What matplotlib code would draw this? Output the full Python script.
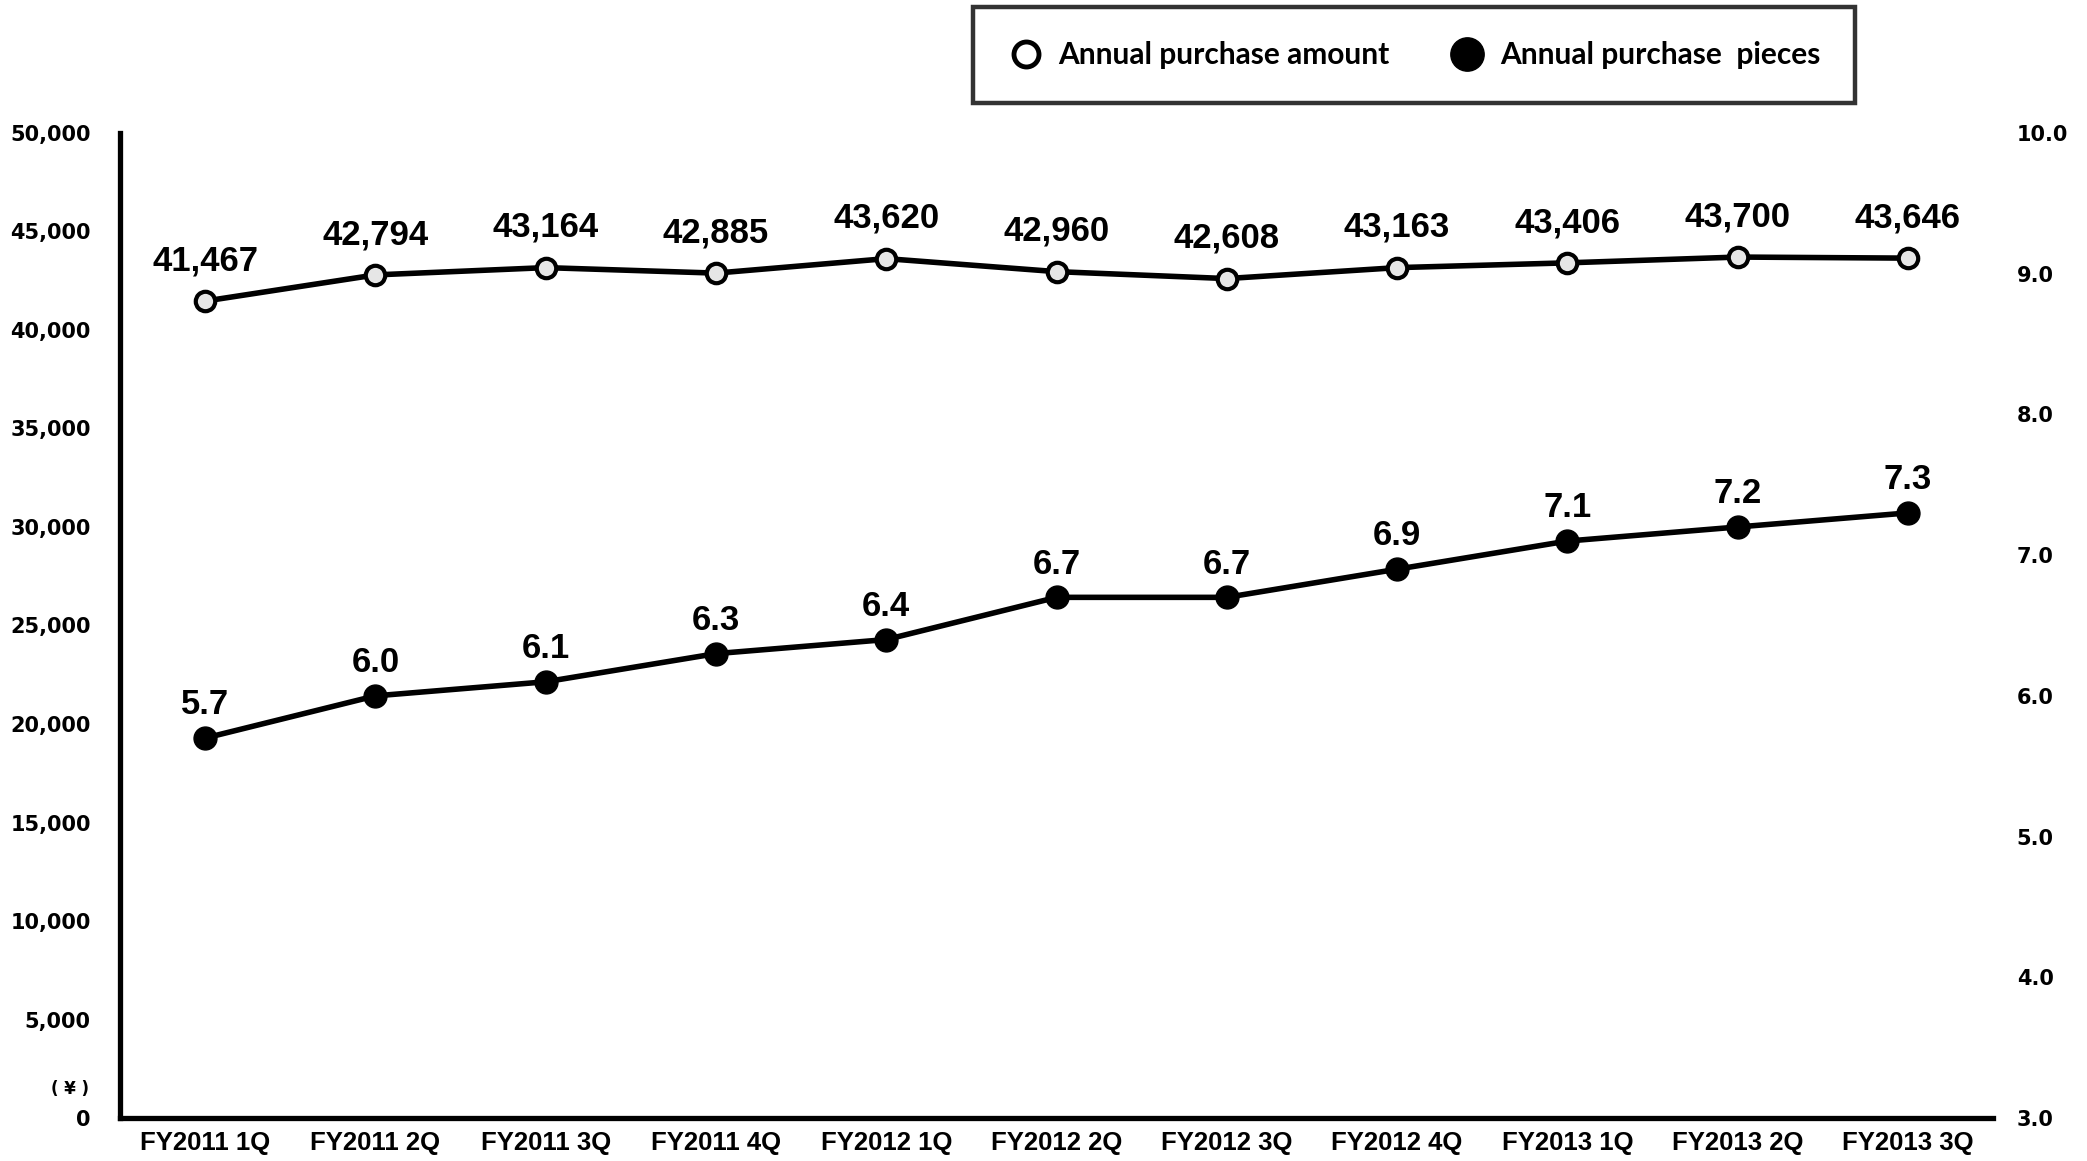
import matplotlib
matplotlib.use("Agg")
import matplotlib.pyplot as plt
from matplotlib.lines import Line2D
from matplotlib.ticker import FuncFormatter

# quarterly purchase figures
quarters = ["FY2011 1Q", "FY2011 2Q", "FY2011 3Q", "FY2011 4Q", "FY2012 1Q", "FY2012 2Q",
            "FY2012 3Q", "FY2012 4Q", "FY2013 1Q", "FY2013 2Q", "FY2013 3Q"]
purchase_amount = [41467, 42794, 43164, 42885, 43620, 42960, 42608, 43163, 43406, 43700, 43646]
purchase_pieces = [5.7, 6.0, 6.1, 6.3, 6.4, 6.7, 6.7, 6.9, 7.1, 7.2, 7.3]

amount_ticks = list(range(0, 50001, 5000))
pieces_ticks = [3.0, 4.0, 5.0, 6.0, 7.0, 8.0, 9.0, 10.0]

tick_font = {'family': ['DejaVu Sans'], 'weight': 'bold', 'size': 15}
xtick_font = {'family': ['Liberation Sans Narrow', 'Liberation Sans'], 'weight': 'bold', 'size': 18.5}
label_font = {'family': ['Liberation Sans'], 'weight': 'bold', 'size': 25}

fig = plt.figure(figsize=(20.87, 11.61), dpi=100)
ax = fig.add_axes([0.0575, 0.037, 0.8975, 0.8485])
ax2 = ax.twinx()

x = list(range(len(quarters)))

# amount (left axis)
ax.plot(x, purchase_amount, color='black', lw=4, marker='o', ms=14,
        mfc='#e6e6e6', mec='black', mew=3, zorder=3)
for xi, v in zip(x, purchase_amount):
    ax.annotate(f"{v:,}", (xi, v), xytext=(0, 29), textcoords='offset points',
                ha='center', va='center', **label_font)

# pieces (right axis)
ax2.plot(x, purchase_pieces, color='black', lw=4, marker='o', ms=16.5,
         mfc='black', mec='black', zorder=3)
for xi, v in zip(x, purchase_pieces):
    ax2.annotate(f"{v:.1f}", (xi, v), xytext=(0, 24), textcoords='offset points',
                 ha='center', va='center', **label_font)

ax.set_xlim(-0.5, len(quarters) - 0.5)
ax.set_ylim(0, 50000)
ax2.set_ylim(3, 10)

ax.set_xticks(x)
ax.set_xticklabels(quarters, **xtick_font)
ax.set_yticks(amount_ticks)
ax.yaxis.set_major_formatter(FuncFormatter(lambda v, p: f"{int(v):,}"))
ax2.set_yticks(pieces_ticks)
ax2.yaxis.set_major_formatter(FuncFormatter(lambda v, p: f"{v:.1f}"))

for lab in ax.get_yticklabels():
    lab.set(**tick_font)
for lab in ax2.get_yticklabels():
    lab.set(**tick_font)

ax.tick_params(axis='y', length=0, pad=21)
ax.tick_params(axis='x', length=0, pad=9)
ax2.tick_params(axis='y', length=0, pad=17)

for a in (ax, ax2):
    for s in ('top', 'right'):
        a.spines[s].set_visible(False)
ax2.spines['left'].set_visible(False)
ax2.spines['bottom'].set_visible(False)
ax.spines['left'].set_linewidth(3.8)
ax.spines['bottom'].set_linewidth(3.8)

# currency unit just above the zero tick
fig.text(0.0335, 0.062, "( ¥ )", ha='center', va='center', fontsize=12, weight='bold',
         family=['DejaVu Sans'])

handles = [
    Line2D([], [], ls='none', marker='o', ms=18, mfc='white', mec='black', mew=3.5),
    Line2D([], [], ls='none', marker='o', ms=24, mfc='black', mec='black'),
]
leg = fig.legend(handles, ["Annual purchase amount", "Annual purchase  pieces"],
                 loc='center', bbox_to_anchor=(0.6776, 0.9526), ncol=2,
                 prop={'family': 'Lato', 'weight': 'bold', 'size': 21.5},
                 frameon=True, fancybox=False, edgecolor='black',
                 handletextpad=0.5, columnspacing=2.0, borderpad=1.15,
                 handlelength=1.2)
leg.get_frame().set_linewidth(3.2)

fig.savefig("out.png", dpi=100)
